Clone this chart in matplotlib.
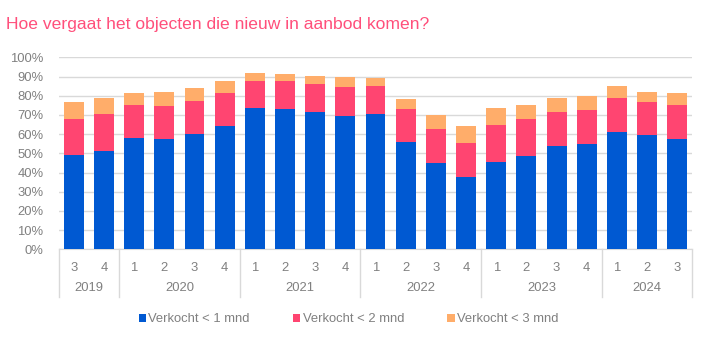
import matplotlib
matplotlib.use("Agg")
import matplotlib.pyplot as plt
from matplotlib.patches import Patch
import matplotlib.transforms as mtransforms
import numpy as np

plt.rcParams['font.family'] = ['Liberation Sans', 'DejaVu Sans']

quarters = ["3", "4", "1", "2", "3", "4", "1", "2", "3", "4", "1", "2", "3", "4",
            "1", "2", "3", "4", "1", "2", "3"]
years = ["2019", "2020", "2021", "2022", "2023", "2024"]
year_counts = [2, 4, 4, 4, 4, 3]

# cumulative shares (%)
sold_1m = [49.1, 51.2, 58.2, 57.3, 59.9, 64.4, 73.6, 73.1, 71.4, 69.4,
           70.5, 56.1, 44.8, 37.8, 45.7, 48.8, 53.6, 54.7, 60.9, 59.4, 57.6]
sold_2m = [67.9, 70.5, 75.0, 74.8, 77.3, 81.4, 87.7, 87.7, 86.1, 84.7,
           85.1, 73.1, 62.7, 55.2, 64.8, 67.7, 71.5, 72.6, 79.0, 76.7, 75.2]
sold_3m = [76.6, 78.8, 81.3, 82.1, 84.2, 87.5, 91.7, 91.3, 90.1, 89.6,
           89.1, 78.5, 70.1, 64.4, 73.8, 75.2, 78.8, 79.9, 85.1, 82.1, 81.4]
series_names = ["Verkocht < 1 mnd", "Verkocht < 2 mnd", "Verkocht < 3 mnd"]
colors = ["#0059D2", "#FF4571", "#FFAD6A"]
title = "Hoe vergaat het objecten die nieuw in aanbod komen?"

gray = "#808080"
grid_c = "#D9D9D9"
fs = 9.4

fig = plt.figure(figsize=(7.19, 3.56), dpi=100)
ax = fig.add_axes([0.0816, 0.2997, 0.8814, 0.5393])

x = np.arange(len(quarters))
b1 = np.array(sold_1m) / 100
b2 = np.array(sold_2m) / 100 - b1
b3 = np.array(sold_3m) / 100 - np.array(sold_2m) / 100
w = 0.66
ax.bar(x, b1, w, color=colors[0], zorder=3)
ax.bar(x, b2, w, bottom=b1, color=colors[1], zorder=3)
ax.bar(x, b3, w, bottom=b1 + b2, color=colors[2], zorder=3)

ax.set_xlim(-0.5, len(quarters) - 0.5)
ax.set_ylim(0, 1.0)
ax.set_yticks(np.arange(0, 1.01, 0.1))
ax.set_yticklabels([f"{int(round(v*100))}%" for v in np.arange(0, 1.01, 0.1)])
ax.yaxis.grid(True, color=grid_c, linewidth=1, zorder=0)
ax.set_axisbelow(True)
for s in ["top", "right", "left"]:
    ax.spines[s].set_visible(False)
ax.spines["bottom"].set_color(grid_c)
ax.tick_params(axis="y", length=0, pad=11, labelsize=fs, labelcolor=gray)
ax.set_xticks(x)
ax.set_xticklabels(quarters)
ax.tick_params(axis="x", length=0, pad=9, labelsize=fs, labelcolor=gray)

trans = mtransforms.blended_transform_factory(ax.transData, ax.transAxes)
bounds = np.concatenate([[0], np.cumsum(year_counts)]) - 0.5
for b in bounds:
    ax.plot([b, b], [0, -0.25], transform=trans, color=grid_c, lw=1, clip_on=False)
for i, yr in enumerate(years):
    cx = (bounds[i] + bounds[i + 1]) / 2
    ax.text(cx, -0.203, yr, transform=trans, ha="center", va="center",
            fontsize=fs, color=gray)

handles = [Patch(facecolor=c, edgecolor="none") for c in colors]
fig.legend(handles, series_names, loc="center", bbox_to_anchor=(0.485, 0.103),
           ncol=3, frameon=False, fontsize=fs, labelcolor=gray,
           handlelength=0.55, handleheight=0.55, handletextpad=0.2,
           columnspacing=3.3)

fig.text(0.008, 0.932, title, fontsize=12.6, color="#FF4F7B", ha="left", va="center")

fig.savefig("out.png", dpi=100)
